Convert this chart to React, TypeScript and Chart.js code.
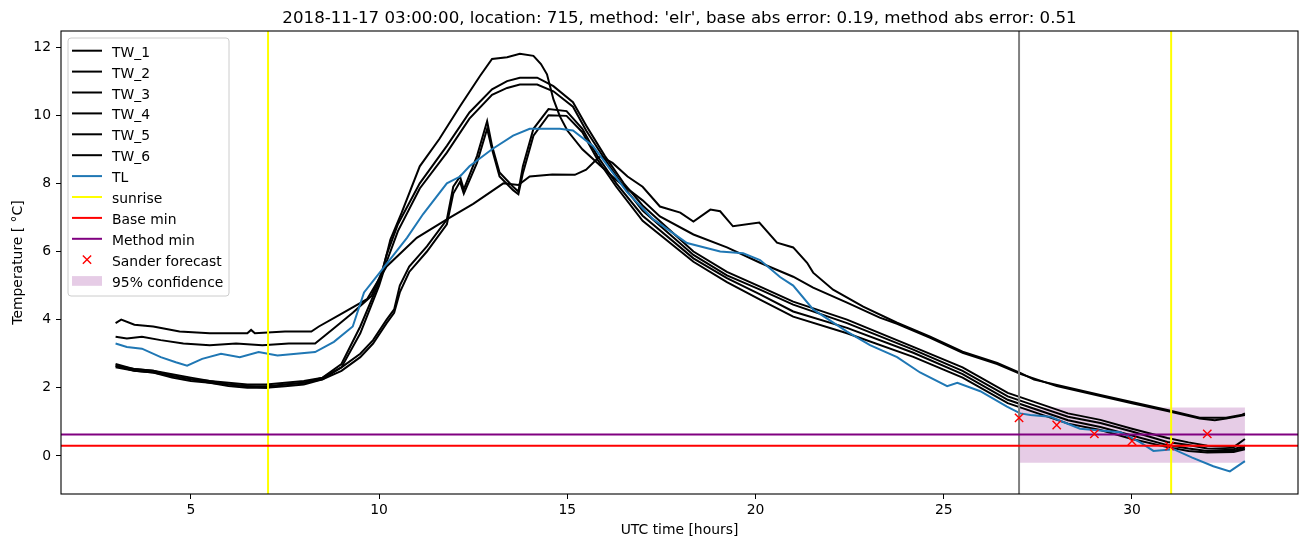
import React, { useEffect, useRef } from "react";
import { Chart, registerables } from "chart.js";

Chart.register(...registerables);

const TITLE = "2018-11-17 03:00:00, location: 715, method: 'elr', base abs error: 0.19, method abs error: 0.51";
const X_LABEL = "UTC time [hours]";
const Y_LABEL = "Temperature [ °C]";
const FONT = "'DejaVu Sans', 'Liberation Sans', sans-serif";

const X_MIN = 1.55;
const X_MAX = 34.41;
const Y_MIN = -1.115;
const Y_MAX = 12.47;
const X_TICKS = [5, 10, 15, 20, 25, 30];
const Y_TICKS = [0, 2, 4, 6, 8, 10, 12];

const TW1_X = [3, 3.3, 3.7, 4.2, 4.8, 5.5, 6.2, 6.9, 7.6, 8.3, 8.8, 9.3, 9.8, 10.1, 10.3, 10.6, 11.08, 11.6, 12.15, 12.68, 13.0, 13.4, 13.74, 14.1, 14.3, 14.46, 14.63, 14.8, 15.0, 15.4, 15.8, 16.3, 17.0, 17.46, 18.35, 19.24, 20.12, 21.0, 21.53, 22.43, 23.3, 23.76, 24.64, 25.5, 26.42, 27.03, 28.0, 29.16, 30.0, 30.94, 31.8, 32.2, 32.5, 33.0];
const TW1_Y = [3.5, 3.45, 3.5, 3.4, 3.3, 3.25, 3.3, 3.25, 3.3, 3.3, 3.75, 4.2, 4.7, 5.47, 6.35, 7.14, 8.5, 9.3, 10.26, 11.15, 11.65, 11.7, 11.8, 11.74, 11.5, 11.2, 10.47, 9.97, 9.55, 9.0, 8.6, 8.1, 7.5, 7.03, 6.5, 6.12, 5.67, 5.26, 4.94, 4.5, 4.06, 3.88, 3.47, 3.03, 2.7, 2.41, 2.05, 1.76, 1.55, 1.32, 1.1, 1.05, 1.1, 1.2];

const TW23_X = [3, 3.5, 4.0, 4.5, 5.0, 5.5, 6.0, 6.5, 7.0, 7.5, 8.0, 8.5, 9.0, 9.5, 10.0, 10.2, 10.5, 11.08, 11.8, 12.4, 13.0, 13.4, 13.74, 14.2, 14.63, 15.15, 15.5, 16.0, 16.5, 17.0, 18.35, 19.24, 20.12, 21.0, 22.43, 24.19, 25.5, 26.7, 27.5, 28.3, 29.16, 30.0, 30.94, 31.5, 32.0, 32.7, 33.0];
const TW2_Y = [2.65, 2.55, 2.5, 2.4, 2.3, 2.2, 2.15, 2.1, 2.1, 2.15, 2.2, 2.3, 2.7, 3.8, 5.1, 5.9, 6.8, 8.0, 9.1, 10.08, 10.76, 11.0, 11.1, 11.1, 10.85, 10.38, 9.7, 8.8, 8.0, 7.35, 6.0, 5.4, 4.97, 4.53, 4.0, 3.2, 2.6, 1.85, 1.55, 1.25, 1.06, 0.8, 0.53, 0.4, 0.3, 0.26, 0.5];
const TW3_Y = [2.6, 2.5, 2.45, 2.35, 2.25, 2.15, 2.1, 2.05, 2.05, 2.1, 2.15, 2.25, 2.6, 3.6, 5.0, 5.7, 6.6, 7.85, 8.9, 9.9, 10.6, 10.8, 10.9, 10.9, 10.7, 10.25, 9.55, 8.7, 7.9, 7.2, 5.9, 5.3, 4.88, 4.44, 3.9, 3.12, 2.5, 1.75, 1.45, 1.15, 0.97, 0.72, 0.41, 0.32, 0.22, 0.2, 0.3];

const TW45_X = [3, 3.5, 4.0, 4.5, 5.0, 5.5, 6.0, 6.5, 7.0, 7.5, 8.0, 8.5, 9.0, 9.5, 9.84, 10.2, 10.4, 10.55, 10.8, 11.27, 11.8, 11.97, 12.15, 12.25, 12.6, 12.87, 13.0, 13.2, 13.56, 13.7, 13.82, 14.1, 14.5, 14.98, 15.4, 15.8, 16.3, 17.0, 18.35, 19.24, 20.12, 21.0, 22.43, 24.19, 25.5, 26.7, 27.5, 28.3, 29.16, 30.0, 30.94, 31.5, 32.0, 32.7, 33.0];
const TW4_Y = [2.7, 2.55, 2.5, 2.35, 2.25, 2.2, 2.1, 2.05, 2.0, 2.1, 2.15, 2.3, 2.6, 3.0, 3.4, 4.0, 4.3, 5.0, 5.56, 6.15, 6.94, 7.9, 8.2, 7.82, 8.8, 9.82, 9.1, 8.32, 7.9, 7.76, 8.5, 9.6, 10.18, 10.12, 9.6, 8.8, 8.0, 7.05, 5.8, 5.22, 4.74, 4.24, 3.76, 3.03, 2.4, 1.65, 1.35, 1.05, 0.85, 0.6, 0.32, 0.22, 0.15, 0.15, 0.25];
const TW5_Y = [2.65, 2.5, 2.45, 2.3, 2.2, 2.15, 2.05, 2.0, 2.0, 2.05, 2.1, 2.25, 2.5, 2.9, 3.3, 3.9, 4.2, 4.8, 5.4, 6.0, 6.8, 7.7, 8.05, 7.7, 8.6, 9.6, 9.0, 8.2, 7.8, 7.68, 8.3, 9.4, 10.0, 9.98, 9.5, 8.7, 7.9, 6.9, 5.7, 5.1, 4.59, 4.09, 3.6, 2.91, 2.3, 1.55, 1.25, 0.95, 0.76, 0.5, 0.26, 0.15, 0.1, 0.12, 0.2];

const TW6_X = [3, 3.15, 3.5, 4.0, 4.7, 5.5, 6.5, 6.6, 6.7, 7.5, 8.2, 8.4, 8.96, 9.68, 10.2, 11.0, 11.8, 12.5, 13.3, 13.7, 14.0, 14.6, 15.2, 15.5, 15.87, 16.2, 16.6, 17.0, 17.46, 18.0, 18.35, 18.8, 19.06, 19.4, 20.1, 20.57, 21.0, 21.37, 21.53, 22.06, 22.86, 23.76, 24.64, 25.5, 26.42, 27.03, 27.4, 29.16, 30.94, 31.8, 32.5, 32.9, 33.0];
const TW6_Y = [3.9, 4.0, 3.85, 3.8, 3.65, 3.6, 3.6, 3.7, 3.6, 3.65, 3.65, 3.8, 4.15, 4.6, 5.56, 6.4, 6.94, 7.4, 8.0, 7.95, 8.2, 8.26, 8.25, 8.4, 8.8, 8.6, 8.2, 7.9, 7.32, 7.14, 6.88, 7.23, 7.18, 6.74, 6.85, 6.26, 6.12, 5.67, 5.38, 4.88, 4.38, 3.91, 3.5, 3.06, 2.73, 2.44, 2.24, 1.79, 1.35, 1.12, 1.12, 1.2, 1.25];

const TL_X = [3, 3.3, 3.7, 4.2, 4.6, 4.9, 5.3, 5.8, 6.3, 6.8, 7.3, 7.8, 8.3, 8.8, 9.3, 9.6, 10.1, 10.74, 11.17, 11.8, 12.15, 12.4, 13.0, 13.56, 14.0, 14.46, 14.8, 15.15, 15.68, 16.58, 17.28, 18.18, 19.06, 19.67, 20.12, 20.65, 21.0, 21.53, 22.43, 23.04, 23.76, 24.37, 25.09, 25.36, 25.97, 26.68, 27.03, 27.3, 27.83, 28.62, 29.69, 30.22, 30.57, 31.1, 31.6, 32.16, 32.6, 33.0];
const TL_Y = [3.3, 3.2, 3.15, 2.9, 2.75, 2.65, 2.85, 3.0, 2.9, 3.05, 2.95, 3.0, 3.05, 3.35, 3.8, 4.8, 5.5, 6.4, 7.1, 8.0, 8.2, 8.5, 9.0, 9.4, 9.6, 9.6, 9.6, 9.55, 9.1, 7.75, 6.95, 6.25, 6.0, 5.95, 5.75, 5.25, 5.0, 4.3, 3.65, 3.25, 2.9, 2.45, 2.05, 2.15, 1.9, 1.45, 1.25, 1.2, 1.15, 0.8, 0.7, 0.4, 0.15, 0.2, -0.05, -0.3, -0.45, -0.15];

const SUNRISE_HOURS = [7.05, 31.04];
const NOW_HOUR = 27;
const BASE_MIN = 0.3;
const METHOD_MIN = 0.63;
const FORECAST_X = [27, 28, 29, 30, 31, 32];
const FORECAST_Y = [1.12, 0.91, 0.65, 0.44, 0.29, 0.65];
const CONF_X = [27, 33];
const CONF_LOW = -0.2;
const CONF_HIGH = 1.42;

const pts = (xs: number[], ys: number[]) => xs.map((x, i) => ({ x, y: ys[i] }));

const BLACK = "#000000";
const BLUE = "#1f77b4";
const YELLOW = "#ffff00";
const RED = "#ff0000";
const PURPLE = "#800080";
const CONF_COLOR = "rgba(128,0,128,0.2)";

type LegendItem = { label: string; color: string; kind: "line" | "marker" | "patch" };
const LEGEND: LegendItem[] = [
  { label: "TW_1", color: BLACK, kind: "line" },
  { label: "TW_2", color: BLACK, kind: "line" },
  { label: "TW_3", color: BLACK, kind: "line" },
  { label: "TW_4", color: BLACK, kind: "line" },
  { label: "TW_5", color: BLACK, kind: "line" },
  { label: "TW_6", color: BLACK, kind: "line" },
  { label: "TL", color: BLUE, kind: "line" },
  { label: "sunrise", color: YELLOW, kind: "line" },
  { label: "Base min", color: RED, kind: "line" },
  { label: "Method min", color: PURPLE, kind: "line" },
  { label: "Sander forecast", color: RED, kind: "marker" },
  { label: "95% confidence", color: CONF_COLOR, kind: "patch" },
];

const lineDs = (label: string, data: any[], color: string, order: number, width = 2) => ({
  label,
  data,
  borderColor: color,
  backgroundColor: color,
  borderWidth: width,
  pointRadius: 0,
  tension: 0,
  fill: false,
  order,
});

const decorPlugin = {
  id: "decor",
  afterDatasetsDraw(chart: any) {
    const { ctx, chartArea: ca } = chart;
    ctx.save();
    ctx.strokeStyle = "#000";
    ctx.lineWidth = 1.1;
    ctx.strokeRect(ca.left, ca.top, ca.right - ca.left, ca.bottom - ca.top);
    ctx.restore();
  },
  afterDraw(chart: any) {
    const { ctx, chartArea: ca } = chart;
    ctx.save();
    ctx.fillStyle = "#000";
    ctx.font = `16.67px ${FONT}`;
    ctx.textAlign = "center";
    ctx.textBaseline = "alphabetic";
    ctx.fillText(TITLE, (ca.left + ca.right) / 2, 23);

    const bx = ca.left + 7;
    const by = ca.top + 7;
    const bw = 161;
    const bh = 258;
    const r = 3;
    ctx.beginPath();
    ctx.moveTo(bx + r, by);
    ctx.lineTo(bx + bw - r, by);
    ctx.arcTo(bx + bw, by, bx + bw, by + r, r);
    ctx.lineTo(bx + bw, by + bh - r);
    ctx.arcTo(bx + bw, by + bh, bx + bw - r, by + bh, r);
    ctx.lineTo(bx + r, by + bh);
    ctx.arcTo(bx, by + bh, bx, by + bh - r, r);
    ctx.lineTo(bx, by + r);
    ctx.arcTo(bx, by, bx + r, by, r);
    ctx.closePath();
    ctx.fillStyle = "rgba(255,255,255,0.8)";
    ctx.fill();
    ctx.strokeStyle = "#cccccc";
    ctx.lineWidth = 1;
    ctx.stroke();

    ctx.font = `13.9px ${FONT}`;
    ctx.textAlign = "left";
    LEGEND.forEach((it, i) => {
      const cy = ca.top + 20.7 + i * 20.9;
      const hx0 = ca.left + 11;
      const hx1 = ca.left + 41;
      if (it.kind === "line") {
        ctx.strokeStyle = it.color;
        ctx.lineWidth = 2;
        ctx.beginPath();
        ctx.moveTo(hx0, cy - 1);
        ctx.lineTo(hx1, cy - 1);
        ctx.stroke();
      } else if (it.kind === "marker") {
        const mx = (hx0 + hx1) / 2;
        const s = 4.15;
        ctx.strokeStyle = it.color;
        ctx.lineWidth = 1.4;
        ctx.beginPath();
        ctx.moveTo(mx - s, cy - 1 - s);
        ctx.lineTo(mx + s, cy - 1 + s);
        ctx.moveTo(mx - s, cy - 1 + s);
        ctx.lineTo(mx + s, cy - 1 - s);
        ctx.stroke();
      } else {
        ctx.fillStyle = it.color;
        ctx.fillRect(hx0, cy - 5.5, hx1 - hx0, 9.7);
      }
      ctx.fillStyle = "#000";
      ctx.fillText(it.label, ca.left + 51, cy + 5);
    });
    ctx.restore();
  },
};

export default function App() {
  const ref = useRef<HTMLCanvasElement>(null);
  useEffect(() => {
    const canvas = ref.current;
    if (!canvas) return;
    const datasets: any[] = [
      {
        label: "95% confidence",
        data: [
          { x: CONF_X[0], y: CONF_HIGH },
          { x: CONF_X[1], y: CONF_HIGH },
        ],
        fill: { value: CONF_LOW },
        backgroundColor: CONF_COLOR,
        borderWidth: 0,
        borderColor: "rgba(0,0,0,0)",
        pointRadius: 0,
        tension: 0,
        order: 100,
      },
      lineDs("TW_1", pts(TW1_X, TW1_Y), BLACK, 90),
      lineDs("TW_2", pts(TW23_X, TW2_Y), BLACK, 89),
      lineDs("TW_3", pts(TW23_X, TW3_Y), BLACK, 88),
      lineDs("TW_4", pts(TW45_X, TW4_Y), BLACK, 87),
      lineDs("TW_5", pts(TW45_X, TW5_Y), BLACK, 86),
      lineDs("TW_6", pts(TW6_X, TW6_Y), BLACK, 85),
      lineDs("TL", pts(TL_X, TL_Y), BLUE, 80),
      lineDs("now", [{ x: NOW_HOUR, y: Y_MIN }, { x: NOW_HOUR, y: Y_MAX }], "#808080", 75),
      ...SUNRISE_HOURS.map((h, i) =>
        lineDs(i === 0 ? "sunrise" : "sunrise_" + i, [{ x: h, y: Y_MIN }, { x: h, y: Y_MAX }], YELLOW, 70 - i)
      ),
      lineDs("Base min", [{ x: X_MIN, y: BASE_MIN }, { x: X_MAX, y: BASE_MIN }], RED, 65),
      lineDs("Method min", [{ x: X_MIN, y: METHOD_MIN }, { x: X_MAX, y: METHOD_MIN }], PURPLE, 60),
      {
        label: "Sander forecast",
        data: pts(FORECAST_X, FORECAST_Y),
        showLine: false,
        pointStyle: "crossRot",
        pointRadius: 5.9,
        pointBorderColor: RED,
        pointBackgroundColor: RED,
        pointBorderWidth: 1.4,
        borderColor: RED,
        order: 55,
      },
    ];

    const tickFont = { family: FONT, size: 13.9 };
    const chart = new Chart(canvas, {
      type: "line",
      data: { datasets },
      options: {
        responsive: false,
        maintainAspectRatio: false,
        devicePixelRatio: 1,
        animation: false,
        events: [],
        layout: { padding: { top: 31, right: 12, left: 0, bottom: 0 } },
        plugins: {
          legend: { display: false },
          title: { display: false },
          tooltip: { enabled: false },
        },
        scales: {
          x: {
            type: "linear",
            min: X_MIN,
            max: X_MAX,
            afterBuildTicks: (s: any) => {
              s.ticks = X_TICKS.map((v) => ({ value: v }));
            },
            afterFit: (s: any) => {
              s.height = 53;
            },
            ticks: { color: "#000", font: tickFont, padding: 3, maxRotation: 0, autoSkip: false },
            grid: { display: true, drawOnChartArea: false, drawTicks: true, tickLength: 5, tickColor: "#000", tickWidth: 1 },
            border: { display: false },
            title: { display: true, text: X_LABEL, color: "#000", font: tickFont, padding: { top: 0, bottom: 8.7 } },
          },
          y: {
            type: "linear",
            min: Y_MIN,
            max: Y_MAX,
            afterBuildTicks: (s: any) => {
              s.ticks = Y_TICKS.map((v) => ({ value: v }));
            },
            afterFit: (s: any) => {
              s.width = 61;
            },
            ticks: { color: "#000", font: tickFont, padding: 5, autoSkip: false },
            grid: { display: true, drawOnChartArea: false, drawTicks: true, tickLength: 5, tickColor: "#000", tickWidth: 1 },
            border: { display: false },
            title: { display: true, text: Y_LABEL, color: "#000", font: tickFont, padding: { top: 9.7, bottom: 0 } },
          },
        },
      } as any,
      plugins: [decorPlugin],
    });
    return () => chart.destroy();
  }, []);

  return (
    <div style={{ position: "fixed", left: 0, top: 0, width: 1310, height: 547, background: "#ffffff" }}>
      <canvas ref={ref} width={1310} height={547} style={{ display: "block", width: 1310, height: 547 }} />
    </div>
  );
}
